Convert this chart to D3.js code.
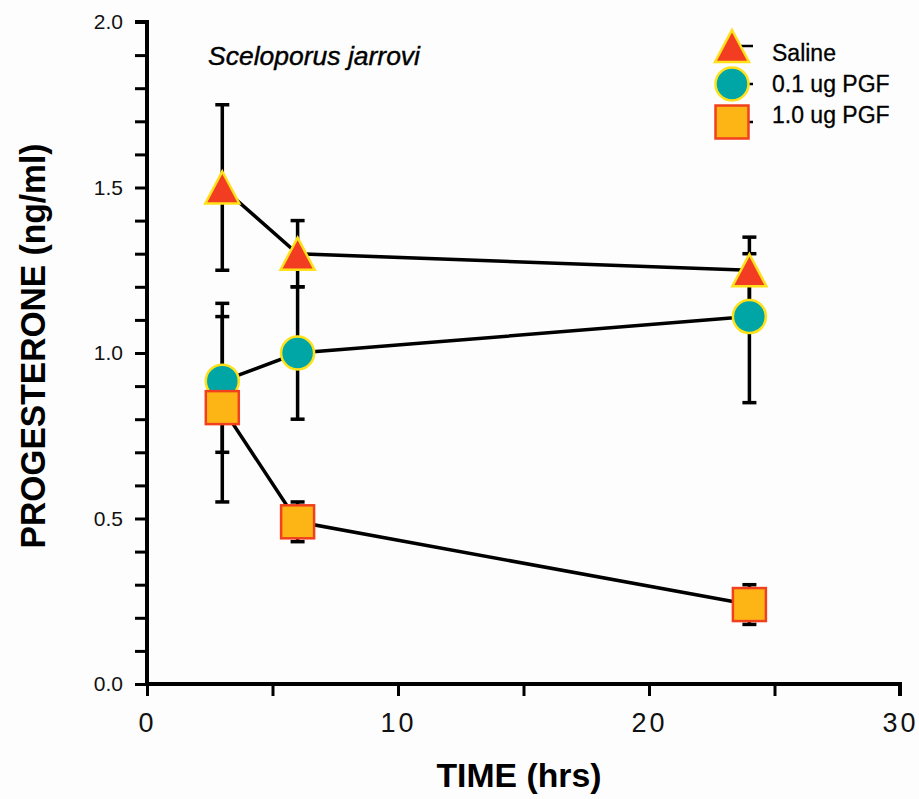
<!DOCTYPE html>
<html>
<head>
<meta charset="utf-8">
<style>
  body { margin: 0; background: #fdfdfd; }
  svg { display: block; }
  text { font-family: "Liberation Sans", Arial, sans-serif; }
</style>
</head>
<body>
<svg id="chart" width="919" height="799"></svg>
<script src="https://cdn.jsdelivr.net/npm/d3@7"></script>
<script>
// data
var times = [3, 6, 24];
var salineMean = [1.5, 1.3, 1.25];
var salineLo = [1.25, 1.2, 1.15];
var salineHi = [1.75, 1.4, 1.35];
var pgf01Mean = [0.915, 1.0, 1.11];
var pgf01Lo = [0.7, 0.8, 0.85];
var pgf01Hi = [1.15, 1.2, 1.3];
var pgf10Mean = [0.835, 0.49, 0.24];
var pgf10Lo = [0.55, 0.43, 0.18];
var pgf10Hi = [1.11, 0.55, 0.3];
var seriesNames = ["Saline", "0.1 ug PGF", "1.0 ug PGF"];
var xTickLabels = [0, 10, 20, 30];
var yTickLabels = [0.0, 0.5, 1.0, 1.5, 2.0];

var series = [
  { name: seriesNames[0], mean: salineMean, lo: salineLo, hi: salineHi, shape: "tri", fill: "#f23d22", stroke: "#ffe11a" },
  { name: seriesNames[1], mean: pgf01Mean, lo: pgf01Lo, hi: pgf01Hi, shape: "circle", fill: "#00a6a6", stroke: "#ffe11a" },
  { name: seriesNames[2], mean: pgf10Mean, lo: pgf10Lo, hi: pgf10Hi, shape: "square", fill: "#fdb515", stroke: "#f0401e" }
];

var svg = d3.select("#chart");
var x = d3.scaleLinear().domain([0, 30]).range([147, 900]);
var y = d3.scaleLinear().domain([0, 2]).range([684, 22]);

// axes
var yAxis = d3.axisLeft(y).tickValues(d3.range(0, 2.001, 0.1)).tickSize(12).tickPadding(12)
  .tickFormat(function (d) {
    var r = Math.round(d * 10) / 10;
    return yTickLabels.some(function (v) { return Math.abs(v - r) < 1e-6; }) ? r.toFixed(1) : "";
  });
var xAxis = d3.axisBottom(x).tickValues(d3.range(0, 31, 5)).tickSize(12).tickPadding(17)
  .tickFormat(function (d) { return xTickLabels.indexOf(d) >= 0 ? d : ""; });

var gy = svg.append("g").attr("transform", "translate(147,0)").call(yAxis);
var gx = svg.append("g").attr("transform", "translate(0,684)").call(xAxis);
[gx, gy].forEach(function (g) {
  g.select(".domain").attr("stroke", "#000").attr("stroke-width", 4);
  g.selectAll(".tick line").attr("stroke", "#000").attr("stroke-width", 3);
  g.selectAll(".tick text").attr("fill", "#111")
    .attr("font-family", "Liberation Sans, Arial, sans-serif");
});
gy.selectAll(".tick text").attr("font-size", 21);
gx.selectAll(".tick text").attr("font-size", 27).attr("letter-spacing", 3);
gy.select(".domain").attr("d", "M-12,22H0V684");
gx.select(".domain").attr("d", "M147,0H900V12");

// axis titles
svg.append("text").attr("x", 519).attr("y", 787).attr("text-anchor", "middle")
  .attr("font-size", 33).attr("font-weight", "bold")
  .attr("textLength", 165).attr("lengthAdjust", "spacingAndGlyphs")
  .text("TIME (hrs)");
svg.append("text").attr("transform", "translate(45,346) rotate(-90)").attr("text-anchor", "middle")
  .attr("font-size", 35).attr("font-weight", "bold")
  .attr("textLength", 405).attr("lengthAdjust", "spacingAndGlyphs")
  .text("PROGESTERONE (ng/ml)");
svg.append("text").attr("x", 208).attr("y", 65).attr("font-size", 26).attr("font-style", "italic")
  .attr("fill", "#000").attr("stroke", "#000").attr("stroke-width", 0.4)
  .attr("textLength", 212).attr("lengthAdjust", "spacingAndGlyphs").text("Sceloporus jarrovi");

var line = d3.line().x(function (d) { return x(d[0]); }).y(function (d) { return y(d[1]); });

// connecting lines
series.forEach(function (s) {
  svg.append("path").datum(times.map(function (t, i) { return [t, s.mean[i]]; }))
    .attr("d", line).attr("fill", "none").attr("stroke", "#000").attr("stroke-width", 3.5);
});

// error bars
series.forEach(function (s) {
  var g = svg.append("g").attr("stroke", "#000").attr("stroke-width", 3.5);
  times.forEach(function (t, i) {
    g.append("line").attr("x1", x(t)).attr("x2", x(t)).attr("y1", y(s.lo[i])).attr("y2", y(s.hi[i]));
    [s.lo[i], s.hi[i]].forEach(function (v) {
      g.append("line").attr("x1", x(t) - 7).attr("x2", x(t) + 7).attr("y1", y(v)).attr("y2", y(v));
    });
  });
});

function marker(g, s, cx, cy) {
  if (s.shape === "tri") {
    g.append("path").attr("d", "M" + cx + "," + (cy - 16) + "L" + (cx + 17) + "," + (cy + 16) + "L" + (cx - 17) + "," + (cy + 16) + "Z")
      .attr("fill", s.fill).attr("stroke", s.stroke).attr("stroke-width", 2.5).attr("stroke-linejoin", "miter");
  } else if (s.shape === "circle") {
    g.append("circle").attr("cx", cx).attr("cy", cy).attr("r", 16.5)
      .attr("fill", s.fill).attr("stroke", s.stroke).attr("stroke-width", 2.5);
  } else {
    g.append("rect").attr("x", cx - 16.5).attr("y", cy - 16.5).attr("width", 33).attr("height", 33)
      .attr("fill", s.fill).attr("stroke", s.stroke).attr("stroke-width", 2.5);
  }
}

// markers
series.forEach(function (s) {
  var g = svg.append("g");
  times.forEach(function (t, i) { marker(g, s, x(t), y(s.mean[i])); });
});

// legend
var legend = svg.append("g");
series.forEach(function (s, i) {
  var cy = 46 + i * 38;
  legend.append("line").attr("x1", 740).attr("x2", 753).attr("y1", cy).attr("y2", cy)
    .attr("stroke", "#000").attr("stroke-width", 2.5);
  marker(legend, s, 732, cy);
  legend.append("text").attr("x", 772).attr("y", 61 + i * 31).attr("font-size", 23)
    .attr("fill", "#000").attr("stroke", "#000").attr("stroke-width", 0.3).text(s.name);
});
</script>
</body>
</html>
